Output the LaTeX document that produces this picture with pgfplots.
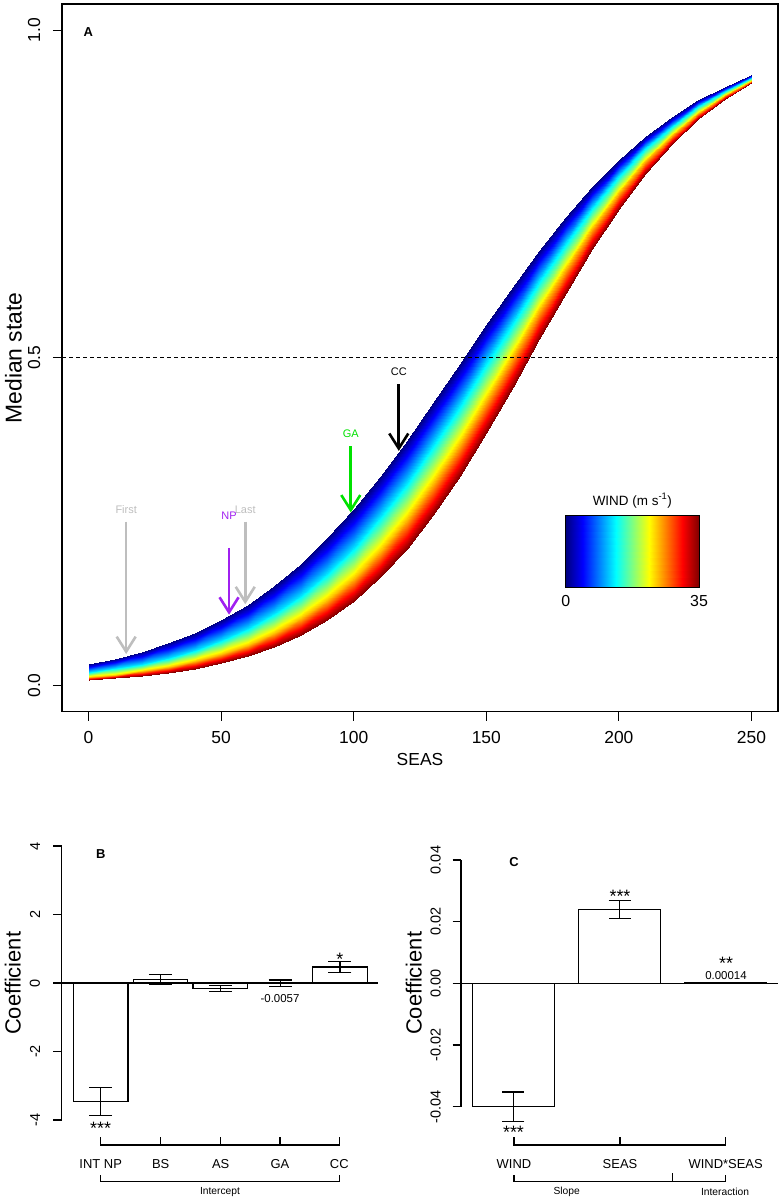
\documentclass[border=0pt]{standalone}
\usepackage{pgfplots}
\pgfplotsset{compat=1.18}
\usepackage{fontspec}
\setmainfont{Liberation Sans}
\usetikzlibrary{arrows.meta}
\definecolor{rgray}{RGB}{190,190,190}
\definecolor{rpurple}{RGB}{160,32,240}
\definecolor{rgreen}{RGB}{0,225,0}
\newcommand{\fs}[1]{\fontsize{#1}{#1}\selectfont}
\begin{document}
\begin{tikzpicture}
\path[use as bounding box] (0,0) rectangle (783bp,-1202bp);
% ---------------- Panel A ----------------
\begin{axis}[
  at={(62bp,-711.7bp)}, anchor=south west,
  width=716bp, height=707.7bp, scale only axis,
  xmin=-10, xmax=260, ymin=-0.04, ymax=1.04,
  axis line style={line width=1.2bp},
  xtick={0,50,100,150,200,250}, xticklabels={0,50,100,150,200,250},
  ytick={0,0.5,1}, yticklabels={0.0,0.5,1.0},
  xtick pos=left, ytick pos=left,
  tick align=outside, major tick length=9bp,
  major tick style={line width=1.2bp, black},
  tick label style={font=\fs{17.5}},
  xticklabel style={anchor=north, inner sep=0pt},
  yticklabel style={rotate=90, anchor=south, inner sep=0pt},
  xticklabel shift=10bp, yticklabel shift=12.5bp,
  colormap/jet, point meta min=0, point meta max=35,
  clip=false,
]
\addplot[surf, shader=interp, mesh/rows=4, mesh/cols=26, point meta=explicit] table[x=S, y=p, meta=w] {
S p w
0 0.0323 0
10 0.0407 0
20 0.0512 0
30 0.0642 0
40 0.0802 0
50 0.0998 0
60 0.1235 0
70 0.1519 0
80 0.1854 0
90 0.2244 0
100 0.2689 0
110 0.3187 0
120 0.3729 0
130 0.4305 0
140 0.4900 0
150 0.5498 0
160 0.6083 0
170 0.6637 0
180 0.7150 0
190 0.7613 0
200 0.8022 0
210 0.8375 0
220 0.8676 0
230 0.8929 0
240 0.9137 0
250 0.9309 0
0 0.0202 12
10 0.0260 12
20 0.0334 12
30 0.0427 12
40 0.0545 12
50 0.0694 12
60 0.0879 12
70 0.1108 12
80 0.1388 12
90 0.1724 12
100 0.2121 12
110 0.2582 12
120 0.3104 12
130 0.3678 12
140 0.4293 12
150 0.4930 12
160 0.5569 12
170 0.6191 12
180 0.6775 12
190 0.7309 12
200 0.7783 12
210 0.8195 12
220 0.8544 12
230 0.8836 12
240 0.9075 12
250 0.9269 12
0 0.0126 24
10 0.0165 24
20 0.0216 24
30 0.0282 24
40 0.0368 24
50 0.0478 24
60 0.0619 24
70 0.0798 24
80 0.1024 24
90 0.1304 24
100 0.1647 24
110 0.2058 24
120 0.2541 24
130 0.3093 24
140 0.3706 24
150 0.4363 24
160 0.5044 24
170 0.5723 24
180 0.6376 24
190 0.6981 24
200 0.7525 24
210 0.7999 24
220 0.8401 24
230 0.8736 24
240 0.9008 24
250 0.9228 24
0 0.0082 35
10 0.0109 35
20 0.0145 35
30 0.0192 35
40 0.0255 35
50 0.0337 35
60 0.0445 35
70 0.0586 35
80 0.0767 35
90 0.0998 35
100 0.1290 35
110 0.1651 35
120 0.2088 35
130 0.2606 35
140 0.3199 35
150 0.3858 35
160 0.4561 35
170 0.5282 35
180 0.5992 35
190 0.6662 35
200 0.7271 35
210 0.7806 35
220 0.8261 35
230 0.8638 35
240 0.8944 35
250 0.9187 35
};
\addplot[black, line width=1bp, dash pattern=on 3.5bp off 3.5bp] coordinates {(-10,0.5) (260,0.5)};
\addplot[rgray, line width=2.6bp, -{Straight Barb[length=15bp,width=19bp]}] coordinates {(14.2,0.25) (14.2,0.048)};
\addplot[rgray, line width=2.6bp, -{Straight Barb[length=15bp,width=19bp]}] coordinates {(59.1,0.25) (59.1,0.124)};
\addplot[rpurple, line width=2.6bp, -{Straight Barb[length=15bp,width=19bp]}] coordinates {(53.0,0.21) (53.0,0.108)};
\addplot[rgreen, line width=2.6bp, -{Straight Barb[length=15bp,width=19bp]}] coordinates {(98.9,0.365) (98.9,0.264)};
\addplot[black, line width=2.6bp, -{Straight Barb[length=15bp,width=19bp]}] coordinates {(117,0.46) (117,0.358)};
\node[font=\fs{11}, text=rgray] at (axis cs:14.2,0.2685) {First};
\node[font=\fs{11}, text=rgray] at (axis cs:59.1,0.2685) {Last};
\node[font=\fs{11}, text=rpurple] at (axis cs:53.0,0.2593) {NP};
\node[font=\fs{11}, text=rgreen] at (axis cs:98.9,0.3836) {GA};
\node[font=\fs{11}, text=black] at (axis cs:117,0.4794) {CC};
\end{axis}
\node[font=\bfseries\fs{13}] at (88.3bp,-31.7bp) {A};
\node[rotate=90, anchor=base, font=\fs{23}] at (21.7bp,-357.9bp) {Median state};
\node[anchor=base, font=\fs{17.5}] at (420bp,-765bp) {SEAS};
% colour key
\begin{axis}[
  at={(565.7bp,-587.3bp)}, anchor=south west,
  width=133.3bp, height=72.3bp, scale only axis,
  xmin=0, xmax=35, ymin=0, ymax=1,
  ytick=\empty, xtick={0,35}, xticklabels={0,35},
  major tick length=0pt, axis on top,
  axis line style={line width=1bp},
  xticklabel style={font=\fs{16}, anchor=north, inner sep=0pt},
  xticklabel shift=7.7bp,
  colormap/jet, point meta min=0, point meta max=35,
]
\addplot[surf, shader=interp, point meta=x, mesh/rows=2, mesh/cols=2] coordinates {(0,0) (35,0) (0,1) (35,1)};
\end{axis}
\node[font=\fs{13.5}] at (632.3bp,-500.7bp) {WIND (m s\textsuperscript{-1})};
% ---------------- Panel B ----------------
\begin{axis}[
  at={(61.7bp,-1120bp)}, anchor=south west,
  width=316.3bp, height=274bp, scale only axis,
  xmin=-0.652, xmax=4.637, ymin=-4, ymax=4,
  axis x line=none, axis y line=left,
  axis line style={-, line width=1.2bp},
  ytick={-4,-2,0,2,4}, yticklabels={-4,-2,0,2,4},
  ytick pos=left, tick align=outside, major tick length=8.5bp,
  major tick style={line width=1.2bp, black},
  tick label style={font=\fs{14.5}},
  yticklabel style={rotate=90, anchor=south, inner sep=0pt},
  yticklabel shift=13bp,
  clip=false,
]
\addplot[ybar, bar shift=0pt, bar width=0.915, fill=white, draw=black, line width=1.2bp,
  error bars/.cd, y dir=both, y explicit,
  error bar style={line width=1.2bp, black},
  error mark options={rotate=90, mark size=11.5bp, line width=1.2bp, black}]
  coordinates {(0,-3.45) +- (0,0.41) (1,0.1) +- (0,0.155) (2,-0.16) +- (0,0.09) (3,-0.0057) +- (0,0.095) (4,0.47) +- (0,0.155)};
\addplot[black, line width=1.2bp] coordinates {(-0.652,0) (4.637,0)};
\end{axis}
\node[font=\bfseries\fs{13}] at (100.7bp,-854bp) {B};
\node[rotate=90, anchor=base, font=\fs{22}] at (20.7bp,-983.3bp) {Coefficient};
\node[anchor=base, font=\fs{18}] at (100.7bp,-1134bp) {***};
\node[anchor=base, font=\fs{18}] at (339.8bp,-965.3bp) {*};
\node[font=\fs{11.5}] at (280bp,-998.3bp) {-0.0057};
\draw[line width=1.2bp] (100.7bp,-1137.3bp) -- (100.7bp,-1145bp) -- (339.3bp,-1145bp) -- (339.3bp,-1137.3bp);
\foreach \xx in {160.7,220.7,280} {\draw[line width=1.2bp] (\xx bp,-1145bp) -- (\xx bp,-1137.3bp);}
\draw[line width=1.2bp] (100.7bp,-1175bp) -- (100.7bp,-1181.7bp) -- (339.3bp,-1181.7bp) -- (339.3bp,-1175bp);
\node[font=\fs{13}] at (100.7bp,-1164.3bp) {INT NP};
\node[font=\fs{13}] at (160.7bp,-1164.3bp) {BS};
\node[font=\fs{13}] at (220.7bp,-1164.3bp) {AS};
\node[font=\fs{13}] at (280bp,-1164.3bp) {GA};
\node[font=\fs{13}] at (339.3bp,-1164.3bp) {CC};
\node[font=\fs{10.3}] at (220bp,-1192bp) {Intercept};
% ---------------- Panel C ----------------
\begin{axis}[
  at={(461bp,-1106.7bp)}, anchor=south west,
  width=317bp, height=246.7bp, scale only axis,
  xmin=-0.494, xmax=2.49, ymin=-0.04, ymax=0.04,
  axis x line=none, axis y line=left,
  axis line style={-, line width=1.2bp},
  scaled y ticks=false,
  ytick={-0.04,-0.02,0,0.02,0.04}, yticklabels={-0.04,-0.02,0.00,0.02,0.04},
  ytick pos=left, tick align=outside, major tick length=8.5bp,
  major tick style={line width=1.2bp, black},
  tick label style={font=\fs{14.5}},
  yticklabel style={rotate=90, anchor=south, inner sep=0pt},
  yticklabel shift=11.5bp,
  clip=false,
]
\addplot[ybar, bar shift=0pt, bar width=0.77, fill=white, draw=black, line width=1.2bp,
  error bars/.cd, y dir=both, y explicit,
  error bar style={line width=1.2bp, black},
  error mark options={rotate=90, mark size=11bp, line width=1.2bp, black}]
  coordinates {(0,-0.04) +- (0,0.0048) (1,0.024) +- (0,0.003)};
\addplot[ybar, bar shift=0pt, bar width=0.77, fill=white, draw=black, line width=1.2bp]
  coordinates {(2,0.00014)};
\addplot[black, line width=1.2bp] coordinates {(-0.494,0) (2.49,0)};
\end{axis}
\node[font=\bfseries\fs{13}] at (514bp,-861.7bp) {C};
\node[rotate=90, anchor=base, font=\fs{22}] at (421.7bp,-983.3bp) {Coefficient};
\node[anchor=base, font=\fs{18}] at (620bp,-902bp) {***};
\node[anchor=base, font=\fs{18}] at (513.5bp,-1138.3bp) {***};
\node[anchor=base, font=\fs{18}, inner sep=0pt] at (726bp,-969bp) {**};
\node[font=\fs{11.5}, inner sep=0pt] at (726bp,-975.5bp) {0.00014};
\draw[line width=1.2bp] (514bp,-1137.3bp) -- (514bp,-1145bp) -- (725.7bp,-1145bp) -- (725.7bp,-1137.3bp);
\draw[line width=1.2bp] (620bp,-1145bp) -- (620bp,-1137.3bp);
\draw[line width=1.2bp] (514bp,-1175bp) -- (514bp,-1181.7bp) -- (725.7bp,-1181.7bp) -- (725.7bp,-1175bp);
\draw[line width=1.2bp] (672.7bp,-1181.7bp) -- (672.7bp,-1173bp);
\node[font=\fs{13}] at (514bp,-1164.3bp) {WIND};
\node[font=\fs{13}] at (620bp,-1164.3bp) {SEAS};
\node[font=\fs{13}] at (725.7bp,-1164.3bp) {WIND*SEAS};
\node[font=\fs{10.3}] at (566.7bp,-1192bp) {Slope};
\node[font=\fs{10.3}] at (725bp,-1192bp) {Interaction};
\end{tikzpicture}
\end{document}
